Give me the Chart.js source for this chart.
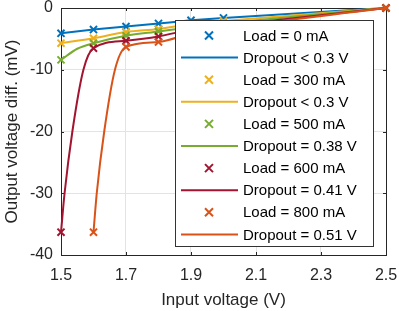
<!DOCTYPE html>
<html>
<head>
<meta charset="utf-8">
<script src="https://cdn.jsdelivr.net/npm/chart.js@4.4.1/dist/chart.umd.min.js"></script>
<style>
  body { margin: 0; background: #fff; }
  #wrap { width: 399px; height: 311px; }
</style>
</head>
<body>
<div id="wrap"><canvas id="chart" width="399" height="311"></canvas></div>
<script>
// measured points (x markers)
const vin = [1.5, 1.6, 1.7, 1.8, 1.9, 2.0, 2.5];
const load0 = [-4.1, -3.5, -3.0, -2.5, -2.0, -1.6, 0];
const load300 = [-5.7, -4.9, -3.9, -3.4, -2.6, -2.1, 0];
const load500 = [-8.4, -5.7, -4.5, -3.8, -3.1, -2.5, 0];
const load600 = [-36.3, -6.5, -5.3, -4.6, -3.5, -2.9, 0];
const vin800 = [1.6, 1.7, 1.8, 1.9, 2.0, 2.5];
const load800 = [-36.3, -6.3, -5.5, -4.1, -3.3, 0];

// fitted curves
const fit500X = [1.5, 1.55, 1.6, 1.7, 1.8, 1.9, 2.0, 2.5];
const fit500 = [-8.4, -6.6, -5.7, -4.5, -3.8, -3.1, -2.5, 0];
const fit600X = [1.5, 1.511, 1.535, 1.569, 1.6, 1.7, 1.8, 1.9, 2.0, 2.5];
const fit600 = [-36.3, -30, -20, -10, -6.5, -5.3, -4.6, -3.5, -2.9, 0];
const fit800X = [1.6, 1.61, 1.633, 1.666, 1.7, 1.8, 1.9, 2.0, 2.5];
const fit800 = [-36.3, -30, -20, -10, -6.3, -5.5, -4.1, -3.3, 0];

const xTicks = [1.5, 1.7, 1.9, 2.1, 2.3, 2.5];
const yTicks = [-40, -30, -20, -10, 0];

const labels = ['Load = 0 mA', 'Dropout < 0.3 V', 'Load = 300 mA', 'Dropout < 0.3 V',
  'Load = 500 mA', 'Dropout = 0.38 V', 'Load = 600 mA', 'Dropout = 0.41 V',
  'Load = 800 mA', 'Dropout = 0.51 V'];
const colors = ['#0072BD', '#EDB120', '#77AC30', '#A2142F', '#D95319'];

const FONT = '"Liberation Sans", Arial, Helvetica, sans-serif';
const INK = '#262626';

function pts(xs, ys) {
  return xs.map((x, i) => ({ x: x, y: ys[i] }));
}

function markers(i, xs, ys) {
  return {
    label: labels[i * 2],
    data: pts(xs, ys),
    showLine: false,
    pointStyle: 'crossRot',
    pointRadius: 5,
    pointBorderWidth: 2,
    borderColor: colors[i],
    backgroundColor: colors[i],
    clip: false,
    order: 10 - i * 2
  };
}

function curve(i, xs, ys) {
  return {
    label: labels[i * 2 + 1],
    data: pts(xs, ys),
    showLine: true,
    pointRadius: 0,
    borderWidth: 2,
    borderColor: colors[i],
    cubicInterpolationMode: 'monotone',
    clip: false,
    order: 9 - i * 2
  };
}

const datasets = [
  markers(0, vin, load0), curve(0, vin, load0),
  markers(1, vin, load300), curve(1, vin, load300),
  markers(2, vin, load500), curve(2, fit500X, fit500),
  markers(3, vin, load600), curve(3, fit600X, fit600),
  markers(4, vin800, load800), curve(4, fit800X, fit800)
];

// top/right box lines and inward ticks like matlab
const frame = {
  id: 'frame',
  beforeDatasetsDraw(chart) {
    const ctx = chart.ctx, a = chart.chartArea;
    const xs = chart.scales.x, ys = chart.scales.y;
    ctx.save();
    ctx.strokeStyle = INK;
    ctx.lineWidth = 1;
    ctx.beginPath();
    ctx.moveTo(a.left, a.top + 0.5);
    ctx.lineTo(a.right + 0.5, a.top + 0.5);
    ctx.lineTo(a.right + 0.5, a.bottom);
    xTicks.forEach(v => {
      const px = Math.round(xs.getPixelForValue(v)) + 0.5;
      ctx.moveTo(px, a.bottom);
      ctx.lineTo(px, a.bottom - 3);
      ctx.moveTo(px, a.top);
      ctx.lineTo(px, a.top + 3);
    });
    yTicks.forEach(v => {
      const py = Math.round(ys.getPixelForValue(v)) + 0.5;
      ctx.moveTo(a.left, py);
      ctx.lineTo(a.left + 3, py);
      ctx.moveTo(a.right, py);
      ctx.lineTo(a.right - 3, py);
    });
    ctx.stroke();
    ctx.restore();
  }
};

// legend box inside the axes
const boxLegend = {
  id: 'boxLegend',
  afterDraw(chart) {
    const ctx = chart.ctx;
    const bx = 175.5, by = 20.5, bw = 198, bh = 226;
    ctx.save();
    ctx.fillStyle = '#fff';
    ctx.fillRect(bx, by, bw, bh);
    ctx.strokeStyle = '#333';
    ctx.lineWidth = 1;
    ctx.strokeRect(bx, by, bw, bh);
    ctx.font = '15px ' + FONT;
    ctx.textBaseline = 'middle';
    chart.data.datasets.forEach((ds, i) => {
      const y = 35.5 + i * 22.1;
      const c = ds.borderColor;
      ctx.strokeStyle = c;
      ctx.lineWidth = 2;
      ctx.beginPath();
      if (ds.showLine) {
        ctx.moveTo(181, y);
        ctx.lineTo(238, y);
      } else {
        ctx.moveTo(205, y - 4); ctx.lineTo(213, y + 4);
        ctx.moveTo(213, y - 4); ctx.lineTo(205, y + 4);
      }
      ctx.stroke();
      ctx.fillStyle = '#000';
      ctx.fillText(ds.label, 243, y + 1);
    });
    ctx.restore();
  }
};

new Chart(document.getElementById('chart'), {
  type: 'scatter',
  data: { datasets: datasets },
  options: {
    responsive: false,
    animation: false,
    layout: { padding: { top: 8, right: 13, left: 0, bottom: 0 } },
    plugins: { legend: { display: false }, tooltip: { enabled: false } },
    scales: {
      x: {
        type: 'linear',
        min: 1.5,
        max: 2.5,
        afterFit(s) { s.height = 56; s.paddingLeft = 0; s.paddingRight = 0; },
        afterBuildTicks(s) { s.ticks = xTicks.map(v => ({ value: v })); },
        grid: { color: '#e3e3e3', drawTicks: false },
        border: { color: INK, width: 1 },
        ticks: {
          padding: 11,
          color: INK,
          font: { family: FONT, size: 16 },
          callback: v => v.toFixed(1)
        },
        title: {
          display: true,
          text: 'Input voltage (V)',
          color: INK,
          font: { family: FONT, size: 17 },
          padding: { top: 0, bottom: 0 }
        }
      },
      y: {
        type: 'linear',
        min: -40,
        max: 0,
        afterFit(s) { s.width = 61; s.paddingTop = 0; s.paddingBottom = 0; },
        afterBuildTicks(s) { s.ticks = yTicks.map(v => ({ value: v })); },
        grid: { color: '#e3e3e3', drawTicks: false },
        border: { color: INK, width: 1 },
        ticks: {
          padding: 8,
          color: INK,
          font: { family: FONT, size: 16 },
          callback: v => String(v)
        },
        title: {
          display: true,
          text: 'Output voltage diff. (mV)',
          color: INK,
          font: { family: FONT, size: 17 },
          padding: { top: 2, bottom: 0 }
        }
      }
    }
  },
  plugins: [frame, boxLegend]
});
</script>
</body>
</html>
